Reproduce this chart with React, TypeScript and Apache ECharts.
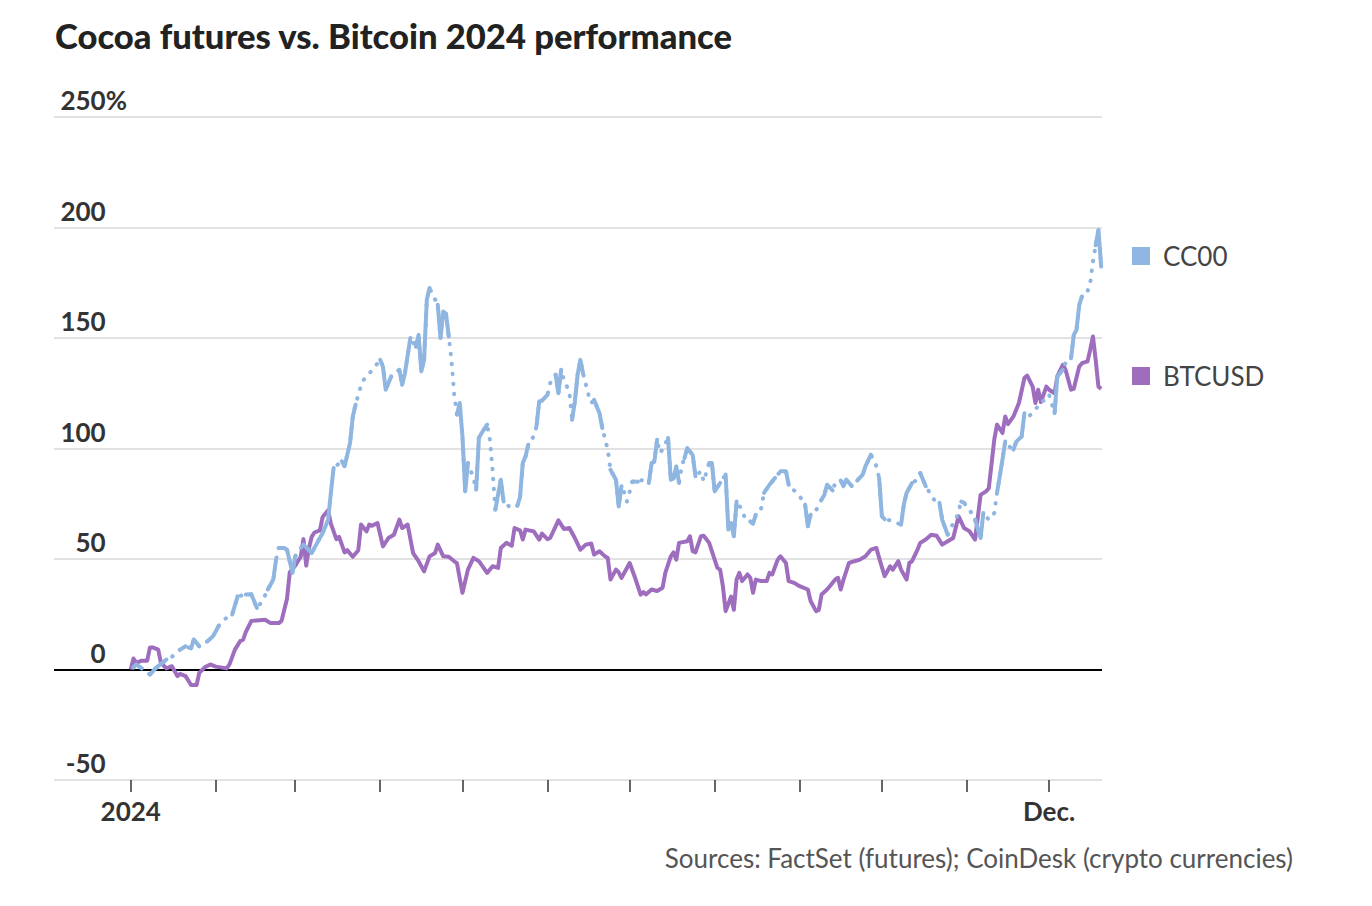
import React, { useEffect, useRef } from "react";
import * as echarts from "echarts";

// Day of year (0 = 1 Jan 2024) and % change since start of year
const btcusd: [number, number][] = [
  [0, 0], [1, 5], [2, 3], [4, 4], [6, 4], [7, 10], [8, 10], [10, 9], [11, 3], [13, 0.5], [15, 1.5], [17, -3], [18, -2], [20, -3], [22, -7], [24, -7], [25, -1.5], [27, 1], [29, 2.3], [31, 1.3], [35, 0.5], [36, 2.3], [38, 9], [40, 13], [41, 13.5], [42, 17], [44, 22], [47, 22.3], [49, 22.5], [51, 21], [54, 21], [55, 22], [57, 32], [58, 44], [60, 47], [62, 51], [63, 59], [64, 47], [65, 55], [66, 60], [67, 62], [69, 63], [70, 69], [72, 72], [73, 66], [75, 59], [76, 60], [78, 53], [79, 54], [81, 51], [83, 54], [84, 65.6], [86, 62.5], [87, 65.6], [88, 65], [90, 66.3], [92, 55.7], [94, 59.5], [96, 61], [98, 67.8], [99, 64], [101, 65.6], [103, 52.7], [105, 49], [107, 44.4], [109, 51.2], [111, 52.7], [112, 56.5], [114, 51.2], [116, 51], [118, 49], [119, 48], [121, 34.7], [123, 45.2], [125, 50.5], [127, 49], [130, 43.7], [132, 46.7], [134, 46], [135, 55], [137, 57.3], [139, 56], [140, 64], [142, 63], [143, 58.8], [144, 63.3], [147, 62.5], [149, 58.8], [150, 61.5], [152, 59], [153, 59.5], [156, 67.5], [158, 63.6], [160, 64], [162, 59.5], [164, 54.2], [166, 56.5], [168, 57], [169, 52], [171, 53.5], [173, 51.2], [174, 50.5], [175, 40.7], [177, 45.2], [178, 44], [179, 41.4], [182, 48.2], [184, 41.4], [186, 33.9], [187, 35], [188, 34], [190, 36.2], [192, 35.5], [194, 37], [195, 43.7], [197, 51.2], [198, 53], [199, 49.7], [200, 57.3], [203, 58], [204, 60.3], [205, 53.5], [206, 53], [208, 60.3], [209, 60.5], [211, 57.3], [212, 53.5], [214, 46], [215, 45.2], [216, 37.7], [217, 26.4], [219, 33], [220, 27], [221, 40.7], [222, 43.7], [223, 40], [225, 43], [226, 41.5], [227, 34.7], [228, 40.7], [230, 40], [232, 40], [233, 43.7], [234, 43], [236, 49.7], [237, 51.2], [239, 48.2], [240, 40], [242, 39.2], [244, 37.7], [247, 36.2], [248, 31], [250, 26.4], [251, 27], [252, 33.9], [254, 36.2], [255, 37.7], [257, 40.7], [258, 41.5], [259, 36.2], [260, 40.7], [262, 48.2], [264, 49], [266, 49.7], [267, 50.5], [268, 51.2], [270, 54.2], [272, 55], [273, 50.5], [275, 42.2], [277, 46.7], [278, 45.2], [280, 49], [281, 45.2], [283, 40.7], [284, 48.2], [285, 49], [287, 54.2], [288, 57.3], [290, 58.8], [292, 61], [294, 60.5], [296, 56.5], [298, 58], [300, 59.5], [302, 69.3], [304, 64], [306, 62.5], [308, 58.8], [310, 79], [312, 80.6], [313, 82], [315, 104], [316, 110.8], [318, 107], [319, 114.5], [320, 111], [322, 114.5], [324, 120.6], [326, 131.9], [327, 133], [329, 128], [330, 120.6], [331, 126.6], [332, 121], [334, 128], [335, 126.6], [337, 125], [338, 132.6], [340, 137.9], [341, 135.6], [343, 126.6], [344, 127], [346, 137.1], [347, 138.6], [349, 139.4], [350, 144.7], [351, 150.7], [352, 140], [353, 128], [354, 127],
];

// Cocoa futures: runs of consecutive quotes (solid); gaps between runs are bridged by dots
const cc00Runs: [number, number][][] = [
  [[1, 1], [2, 2.3], [4, 0.5]],
  [[7, -2.3], [9, 0.5], [13, 4.5]],
  [[15, 5.7]],
  [[18, 9], [20, 10.5]],
  [[22, 9.5], [23, 13.6], [25, 10.5]],
  [[28, 12.8], [30, 15], [32, 19.6]],
  [[34, 22.6]],
  [[37, 24.9], [39, 33.1]],
  [[42, 33.9], [44, 34], [46, 27.9]],
  [[48, 30.9]],
  [[50, 36.2], [52, 40.7], [53, 49.7]],
  [[54, 55], [56, 55], [57, 54.2], [59, 43.7], [60, 51.2]],
  [[62, 55]],
  [[63, 56.5], [65, 54], [66, 52.7], [68, 57.3], [70, 61.8], [72, 67.8], [73, 79.9], [74, 91.2]],
  [[77, 94.2], [78, 92], [80, 102.5], [81, 114.5], [82, 119.8]],
  [[83, 124.3]], [[84, 128.4]], [[85, 131.1]], [[87, 134]], [[88, 135.3]],
  [[91, 140.1], [92, 137], [93, 126.6], [95, 132.6]],
  [[96, 134]],
  [[98, 135.6], [99, 128.8], [100, 134], [102, 150]],
  [[104, 146], [105, 151.4], [106, 134.9], [107, 140.1], [108, 167.3], [109, 172.6]],
  [[110, 170]],
  [[112, 165], [113, 150], [114, 162], [115, 161], [116, 150.7]],
  [[117, 140]], [[118, 124.3]],
  [[119, 115.3], [120, 120.6], [121, 105.5], [122, 80.6], [123, 93.4]],
  [[125, 86.7]],
  [[126, 81.4], [127, 104.8], [128, 107], [130, 110.8]],
  [[131, 104]], [[132, 90]],
  [[133, 72.3], [135, 85.9], [136, 76]],
  [[138, 73.8]],
  [[141, 74], [142, 78], [143, 93.4], [144, 96.4], [145, 101.7]],
  [[147, 105.5]],
  [[148, 110], [149, 121.3], [150, 121.7], [152, 124.3]],
  [[153, 129.6]],
  [[155, 133.4], [156, 125], [157, 135.6]],
  [[158, 131.1]], [[160, 125.5]],
  [[161, 113], [162, 121.3], [163, 133.4], [164, 140.1], [165, 134]],
  [[167, 124.3]], [[168, 120.6]],
  [[169, 122], [171, 116], [172, 109.3]],
  [[174, 99.5]],
  [[175, 90.4], [177, 85.9], [178, 73.8], [179, 82.9]],
  [[180, 80]], [[181, 76]],
  [[183, 85.1], [185, 85]],
  [[187, 85.9]],
  [[189, 84.4], [190, 93.4], [191, 94], [192, 104]],
  [[193, 98]], [[194, 99.5]],
  [[196, 104.8], [197, 85.9], [198, 86.5], [199, 91.9], [200, 84.4]],
  [[201, 92]],
  [[202, 95.7], [203, 100.2], [205, 97], [206, 87.4]],
  [[208, 89.7]], [[209, 85.1]],
  [[211, 93.4], [212, 93.4], [213, 80.6], [215, 84.4]],
  [[217, 88.2], [218, 63.3], [219, 66.3], [220, 60.3], [221, 76]],
  [[223, 72.3]], [[224, 68.6]],
  [[226, 67], [227, 66], [228, 70]],
  [[230, 73]],
  [[231, 79.9], [233, 83.6], [235, 86.7]],
  [[237, 89.7], [239, 89.7], [240, 83.6]],
  [[242, 81]], [[244, 78.4]],
  [[246, 74.6], [247, 64.8], [248, 70]],
  [[250, 72]],
  [[252, 76.9], [253, 79], [254, 83.6], [256, 81]],
  [[257, 84.4]],
  [[259, 85.5], [260, 82.9], [261, 85.9], [263, 83]],
  [[265, 85.5], [267, 88.2], [268, 91.9], [270, 97.2]],
  [[272, 92]],
  [[273, 86.7], [274, 69.3], [275, 68]],
  [[277, 67.5]], [[279, 66.6]],
  [[281, 65.5], [282, 74.6], [283, 79.9], [285, 84.4]],
  [[287, 85.9]],
  [[288, 88.9], [289, 85.9], [290, 82.9]],
  [[293, 76.9]],
  [[295, 75.4], [296, 67.8], [298, 61]],
  [[299, 64]], [[301, 67.8]],
  [[303, 76], [304, 75.4]],
  [[306, 72.3]],
  [[308, 67.8], [310, 59.5], [311, 70.8]],
  [[313, 67.8]], [[315, 70.8]],
  [[316, 79.9], [318, 95], [319, 103.2]],
  [[321, 100.2]],
  [[322, 99.5], [323, 103], [325, 105.5], [326, 116]],
  [[328, 115]], [[330, 117.5]], [[332, 121.3]], [[334, 122]], [[335, 124.3]],
  [[337, 116], [338, 132.6], [340, 135.6]],
  [[341, 138.7]],
  [[343, 140.8], [344, 151.4], [345, 153.7], [346, 165], [347, 168.8]],
  [[349, 171]], [[350, 174.8]], [[351, 184.6]],
  [[352, 192], [353, 198.9], [354, 182.3]],
];

const seriesNames = ["CC00", "BTCUSD"];
const yTicks = [-50, 0, 50, 100, 150, 200, 250];
const tickMonths = [0, 1, 2, 3, 4, 5, 6, 7, 8, 9, 10, 11];
const labelMonths = [0, 11];
const labelTexts = ["2024", "Dec."];

const DAY = 86400000;
const JAN1 = Date.UTC(2024, 0, 1);
const monthDay = (m: number) => Math.round((Date.UTC(2024, m, 1) - JAN1) / DAY);

export default function App() {
  const ref = useRef<HTMLDivElement>(null);
  useEffect(() => {
    if (!ref.current) return;
    const chart = echarts.init(ref.current, undefined, { renderer: "svg" });
    const labelValues = labelMonths.map(monthDay);
    const font = "Lato";
    const gridColors = yTicks.map((v) => (v === 0 ? "#000000" : "#e2e2e2"));
    const cocoaAll = cc00Runs.flat();
    const cocoaSolid: any[] = [];
    cc00Runs.forEach((run) => {
      run.forEach((p) => cocoaSolid.push(p));
      cocoaSolid.push(null);
    });
    const blue = "#8fb5e1";
    const purple = "#9e6dbe";
    chart.setOption({
      animation: false,
      textStyle: { fontFamily: font },
      title: {
        text: "Cocoa futures vs. Bitcoin 2024 performance",
        left: 55,
        top: 18,
        padding: 0,
        textStyle: { fontFamily: font, fontSize: 34.6, fontWeight: 900, color: "#222222" },
      },
      legend: {
        data: seriesNames,
        orient: "vertical",
        left: 1132,
        top: 243,
        padding: 0,
        itemWidth: 18,
        itemHeight: 18,
        itemGap: 94,
        icon: "rect",
        selectedMode: false,
        textStyle: { fontFamily: font, fontSize: 26, color: "#444444", lineHeight: 26, padding: [0, 0, 0, 8] },
      },
      grid: { left: 54, right: 270, top: 117, bottom: 126, containLabel: false },
      xAxis: {
        type: "value",
        min: -28,
        max: 354.3,
        axisLine: { show: false, onZero: false },
        splitLine: { show: false },
        axisTick: {
          show: true,
          length: 12,
          customValues: tickMonths.map(monthDay),
          lineStyle: { color: "#333333", width: 1.5 },
        },
        axisLabel: {
          customValues: labelValues,
          margin: 18,
          fontFamily: font,
          fontSize: 26,
          fontWeight: "bold",
          color: "#333333",
          formatter: (v: number) => {
            const i = labelValues.indexOf(Math.round(v));
            return i >= 0 ? labelTexts[i] : "";
          },
        },
      },
      yAxis: {
        type: "value",
        min: yTicks[0],
        max: yTicks[yTicks.length - 1],
        interval: 50,
        axisLine: { show: false },
        axisTick: { show: false },
        splitLine: { show: true, lineStyle: { color: gridColors, width: 2 } },
        axisLabel: {
          margin: -73,
          align: "right",
          verticalAlign: "bottom",
          padding: [0, 0, 4, 0],
          formatter: (v: number) => `{n|${v}}{${v === 250 ? "p" : "h"}|%}`,
          rich: {
            n: { fontFamily: font, fontSize: 26, fontWeight: "bold", color: "#333333" },
            p: { fontFamily: font, fontSize: 26, fontWeight: "bold", color: "#333333" },
            h: { fontFamily: font, fontSize: 26, fontWeight: "bold", color: "rgba(0,0,0,0)" },
          },
        },
      },
      series: [
        {
          name: "BTCUSD",
          type: "line",
          showSymbol: false,
          color: purple,
          lineStyle: { width: 4, color: purple, join: "round" },
          data: btcusd,
          z: 2,
        },
        {
          name: "CC00",
          type: "line",
          showSymbol: false,
          connectNulls: true,
          color: blue,
          lineStyle: { width: 4, color: blue, type: [0.5, 9.5], cap: "round", join: "round" },
          data: cocoaAll,
          z: 3,
        },
        {
          name: "CC00",
          type: "line",
          showSymbol: false,
          connectNulls: false,
          color: blue,
          lineStyle: { width: 4, color: blue, cap: "round", join: "round" },
          data: cocoaSolid,
          z: 3,
        },
      ],
      graphic: [
        {
          type: "text",
          right: 79,
          top: 845,
          style: {
            text: "Sources: FactSet (futures); CoinDesk (crypto currencies)",
            fontFamily: font,
            fontSize: 26,
            fill: "#555555",
          },
        },
      ],
    });
    return () => chart.dispose();
  }, []);
  return (
    <div
      ref={ref}
      style={{ position: "fixed", left: 0, top: 0, width: 1372, height: 906, background: "#ffffff" }}
    />
  );
}
